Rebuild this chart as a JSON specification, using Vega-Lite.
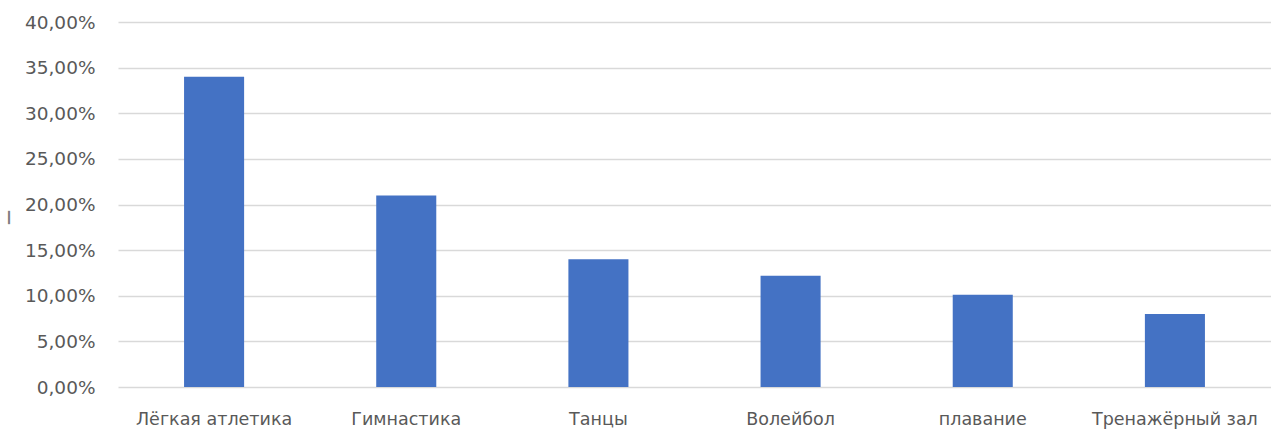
{
  "$schema": "https://vega.github.io/schema/vega-lite/v6.json",
  "width": 1153,
  "height": 365,
  "autosize": {"type": "none"},
  "padding": {"left": 118, "top": 22, "right": 0, "bottom": 45},
  "background": "#ffffff",
  "config": {
    "view": {"stroke": null},
    "font": "DejaVu Sans"
  },
  "data": {
    "values": [
      {"sport": "Лёгкая атлетика", "share": 0.34},
      {"sport": "Гимнастика", "share": 0.21},
      {"sport": "Танцы", "share": 0.14},
      {"sport": "Волейбол", "share": 0.122},
      {"sport": "плавание", "share": 0.101},
      {"sport": "Тренажёрный зал", "share": 0.08}
    ]
  },
  "mark": {"type": "bar", "color": "#4472C4"},
  "encoding": {
    "x": {
      "field": "sport",
      "type": "nominal",
      "sort": null,
      "scale": {"paddingInner": 0.6875, "paddingOuter": 0.34375},
      "axis": {
        "title": null,
        "labelAngle": 0,
        "domain": false,
        "ticks": false,
        "labelFont": "DejaVu Sans",
        "labelFontSize": 17.5,
        "labelColor": "#595959",
        "labelPadding": 23
      }
    },
    "y": {
      "field": "share",
      "type": "quantitative",
      "scale": {"domain": [0, 0.4]},
      "axis": {
        "title": "—",
        "titleColor": "#7f7f7f",
        "titleFont": "DejaVu Sans",
        "titleFontSize": 15,
        "titleFontWeight": "bold",
        "titleX": -111,
        "titleY": 195,
        "titleAngle": -90,
        "titleAlign": "center",
        "titleBaseline": "middle",
        "values": [0, 0.05, 0.1, 0.15, 0.2, 0.25, 0.3, 0.35, 0.4],
        "labelExpr": "replace(format(datum.value, '.2%'), '.', ',')",
        "domain": false,
        "ticks": false,
        "grid": true,
        "gridColor": "#d9d9d9",
        "gridWidth": 1.5,
        "labelFont": "DejaVu Sans",
        "labelFontSize": 18.5,
        "labelColor": "#595959",
        "labelPadding": 23
      }
    }
  }
}
